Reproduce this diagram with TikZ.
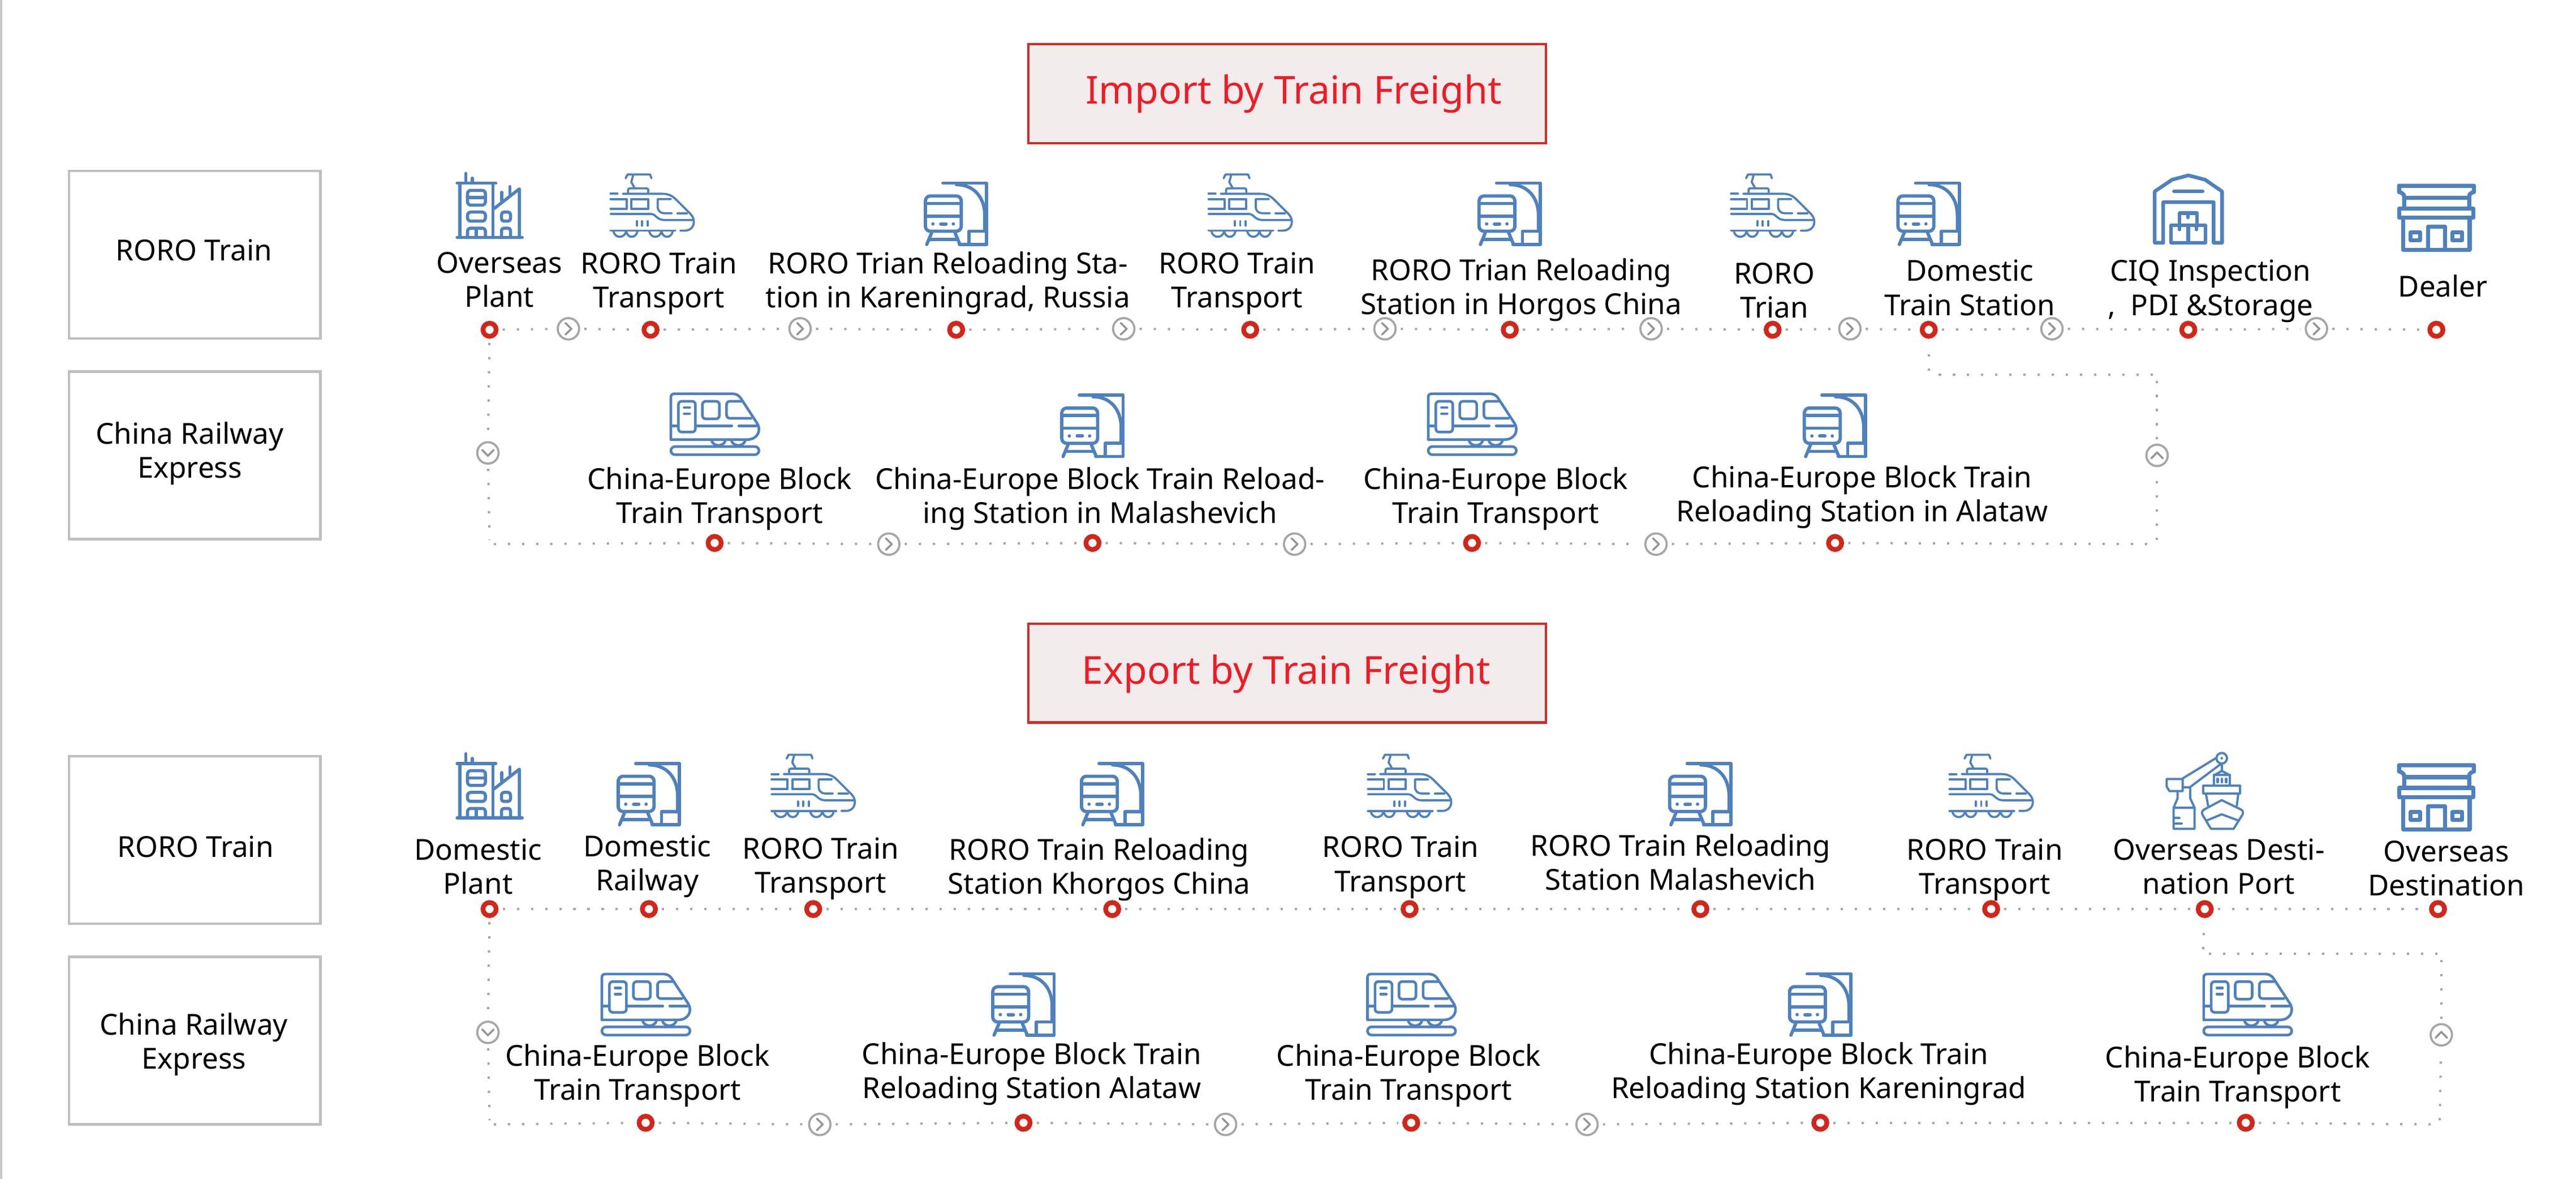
\documentclass[tikz,border=0pt]{standalone}
\usepackage{fontspec}
\setmainfont{Noto Sans}
\definecolor{icon}{HTML}{4F81BD}
\definecolor{ringred}{HTML}{D2261A}
\definecolor{dotgray}{HTML}{A6A6A6}
\definecolor{boxgray}{HTML}{BFBFBF}
\definecolor{ttlborder}{HTML}{C8302A}
\definecolor{ttlfill}{HTML}{F2ECED}
\definecolor{ttltext}{HTML}{EE1C25}
\newcommand\lz{\rule[-6.2pt]{0pt}{20.7pt}}
\newcommand\lbl[5]{\node[lbl,yshift=-2.3pt] (#1) at (#2,#3) {\lz #4\\\lz #5};}
\newcommand\gar[4]{\node[garrow] (#1) at (#2,#3) {};
  \draw[chev,shift={(#1.center)},rotate=#4] (-1.8,-3.5)--(1.8,0)--(-1.8,3.5);}
\tikzset{
  x=1pt,y=-1pt,
  lbl/.style={inner sep=0,align=center,font=\fontsize{17.6}{20.7}\selectfont,text=black},
  ttl/.style={draw=ttlborder,fill=ttlfill,line width=1.4pt,minimum width=315pt,minimum height=60pt,inner sep=0},
  ttltxt/.style={inner sep=0,text=ttltext,font=\fontsize{23.4}{28}\selectfont},
  lbox/.style={draw=boxgray,line width=1.5pt,minimum width=153pt,minimum height=102pt,inner sep=0},
  ring/.style={circle,draw=ringred,fill=white,line width=2.9pt,minimum size=8pt,inner sep=0},
  garrow/.style={circle,draw=dotgray,fill=white,line width=1.3pt,minimum size=13pt,inner sep=0},
  chev/.style={draw=dotgray!90!black,line width=1.2pt,line cap=round,line join=round},
  conn/.style={draw=dotgray,line width=1.4pt,dash pattern=on 1.4pt off 7.2pt,shorten <=2.5pt,shorten >=2.5pt},
  ic/.style={draw=icon,line cap=round,line join=round,fill=none},
  pics/fasttrain/.style={code={
    \begin{scope}[scale=.1148,shift={(-456,-249)},ic,line width=1.3pt]
    \draw (315,105)--(325,85)--(445,85)--(452,105);
    \draw (355,88)--(345,125)--(362,155);
    \draw[rounded corners=1pt] (328,180)--(328,158)--(435,158)--(435,180);
    \draw (235,187)--(272,187);
    \draw (300,187)--(510,187) .. controls (545,187) and (565,200) .. (585,220)--(660,295) .. controls (690,325) and (680,382) .. (630,382)--(605,382);
    \draw (235,215)--(320,215)--(320,267)--(235,267);
    \draw (345,215) rectangle (435,267);
    \draw (555,215)--(485,215)--(485,255) .. controls (485,278) and (500,290) .. (520,290)--(560,290);
    \draw (590,290)--(640,290);
    \draw (235,294)--(450,294) .. controls (475,294) and (480,326) .. (520,326)--(670,326);
    \draw (375,332)--(375,356) (403,332)--(403,356) (432,332)--(432,356);
    \draw (235,382)--(578,382);
    \draw (250,385) .. controls (258,425) and (310,425) .. (318,385);
    \draw (318,385) .. controls (325,425) and (370,425) .. (378,385);
    \draw (440,385) .. controls (448,425) and (497,425) .. (505,385);
    \draw (505,385) .. controls (512,425) and (557,425) .. (565,385);
    \end{scope}}},
  pics/reload/.style={code={
    \begin{scope}[scale=.1148,shift={(-278,-259)},ic,line width=2pt]
    \draw (208,97)--(440,97)--(440,422)--(295,422);
    \draw (280,105) .. controls (370,105) and (430,170) .. (430,270)--(430,350);
    \draw (345,420)--(345,352)--(438,352);
    \draw[rounded corners=3pt] (115,165) rectangle (305,352);
    \draw (115,205)--(305,205) (115,272)--(305,272);
    \fill[icon] (155,313) circle[radius=9] (263,313) circle[radius=9];
    \draw[line width=2.1pt] (197,313)--(224,313);
    \draw (148,360)--(122,422) (272,360)--(298,422);
    \draw (140,395)--(280,395);
    \end{scope}}},
  pics/blocktrain/.style={code={
    \begin{scope}[scale=.1148,shift={(-337,-213)},ic,line width=1.6pt]
    \draw (105,295)--(105,70) .. controls (105,58) and (112,52) .. (125,52)--(430,52) .. controls (450,52) and (465,60) .. (475,75)--(560,205) .. controls (590,250) and (560,295) .. (510,295)--cycle;
    \draw (105,222)--(140,222);
    \draw[rounded corners=2pt] (145,92) rectangle (235,255);
    \draw (175,125)--(205,125) (175,158)--(205,158);
    \draw (235,222)--(428,222) (465,222)--(558,222);
    \draw[rounded corners=2pt] (272,92) rectangle (362,185);
    \draw[rounded corners=2pt] (480,92)--(400,92)--(400,182)--(530,182);
    \draw (320,298) .. controls (330,335) and (385,335) .. (395,298);
    \draw (425,298) .. controls (435,335) and (490,335) .. (500,298);
    \draw[rounded corners=2.5pt] (105,332) rectangle (572,375);
    \end{scope}}},
  pics/building/.style={code={
    \begin{scope}[scale=.1148,shift={(-232,-210)},ic,line width=1.9pt]
    \draw (60,380)--(405,380);
    \draw (60,92)--(265,92);
    \draw (75,92)--(75,380) (250,92)--(250,380);
    \draw (106,40)--(106,90) (140,65)--(140,90);
    \draw (258,225)--(390,122)--(390,380);
    \draw (297,140)--(297,185) (340,110)--(340,150);
    \draw[rounded corners=2pt] (115,130) rectangle (210,208);
    \draw (115,168)--(210,168);
    \draw[rounded corners=2pt] (115,245) rectangle (210,293);
    \draw[rounded corners=2pt] (115,380)--(115,330)--(210,330)--(210,380);
    \draw (162,335)--(162,380);
    \draw[rounded corners=1.5pt] (295,245) rectangle (343,293);
    \draw[rounded corners=1.5pt] (295,380)--(295,330)--(343,330)--(343,380);
    \end{scope}}},
  pics/warehouse/.style={code={
    \begin{scope}[scale=.1148,shift={(-236,-232)},ic,line width=2.2pt]
    \draw (58,140)--(150,78)--(236,55)--(325,78)--(415,140)--(415,412)--(370,412)--(370,197)--(103,197)--(103,412)--(58,412)--cycle;
    \draw (160,140)--(312,140);
    \draw (190,315)--(190,255)--(282,255)--(282,315);
    \draw (145,320) rectangle (327,412);
    \draw (236,320)--(236,412);
    \draw (190,330)--(190,342) (280,330)--(280,342) (235,265)--(235,278);
    \end{scope}}},
  pics/shop/.style={code={
    \begin{scope}[scale=.1148,shift={(-266,-225)},ic,line width=2.5pt]
    \draw (95,175)--(95,110) .. controls (95,100) and (80,90) .. (68,88)--(68,55)--(465,55)--(465,88) .. controls (453,90) and (440,100) .. (440,110)--(440,175);
    \draw (95,118)--(440,118);
    \draw (68,175) rectangle (462,225);
    \draw (90,225)--(90,395)--(442,395)--(442,225);
    \draw (222,395)--(222,272)--(313,272)--(313,395);
    \draw (130,302) rectangle (180,345);
    \draw (352,302) rectangle (402,345);
    \end{scope}}},
  pics/port/.style={code={
    \begin{scope}[scale=.1148,shift={(-262,-230)},ic,line width=1.35pt]
    \draw (352,58) circle[radius=28];
    \fill[icon] (352,58) circle[radius=7];
    \draw (145,165)--(325,55) (185,210)--(345,90);
    \draw (60,168)--(145,168)--(145,232)--(75,232)--(60,208)--cycle;
    \draw (150,212)--(185,212)--(185,270)--(208,320)--(208,432)--(97,432)--(97,320)--(118,270)--(118,235);
    \draw (97,320)--(208,320);
    \draw (100,375)--(128,375) (100,403)--(140,403);
    \draw (352,90)--(352,125);
    \draw (318,145)--(352,125)--(390,145);
    \draw (310,200)--(310,145)--(395,145)--(395,200);
    \draw[line width=1.5pt] (330,167)--(330,185) (352,167)--(352,185) (375,167)--(375,185);
    \draw (255,202) rectangle (450,245);
    \draw (268,245)--(280,310) (440,245)--(432,310);
    \draw (352,280)--(455,330) .. controls (465,337) and (468,345) .. (462,357)--(415,432)--(295,432)--(250,357) .. controls (245,345) and (248,337) .. (258,330)--cycle;
    \draw (272,388)--(352,355)--(440,388);
    \end{scope}}},
}
\begin{document}
\begin{tikzpicture}
\useasboundingbox (0,0) rectangle (1568,717.2);
\fill[boxgray!85] (0,0) rectangle (1.5,717.2);

% titles
\node[ttl] (t1) at (783.5,57) {};
\node[ttltxt] (t1t) at (787.5,57) {Import by Train Freight};
\node[ttl] (t2) at (783.5,409.5) {};
\node[ttltxt] (t2t) at (783,410) {Export by Train Freight};

% left boxes
\node[lbox] (b1) at (118.5,155) {};
\node[lbox] (b2) at (118.5,277) {};
\node[lbox] (b3) at (118.5,511) {};
\node[lbox] (b4) at (118.5,633) {};
\node[lbl] (b1t) at (118,152.3) {RORO Train};
\lbl{b2t}{115.5}{274}{China Railway}{Express}
\node[lbl] (b3t) at (119,515) {RORO Train};
\lbl{b4t}{118}{633.5}{China Railway}{Express}

% row 1 stations
\foreach \n/\x in {1/298,2/396,3/582,4/761,5/919,6/1079,7/1174,8/1332,9/1483}
  \node[ring] (d\n) at (\x,200.6) {};
\foreach \n/\x in {1/346,2/487,3/684,4/843,5/1005,6/1126,7/1249,8/1410}
  {\gar{a\n}{\x}{200}{0}}
\gar{av1}{297}{275.5}{-90}
\gar{av2}{1313}{277}{90}
% row 2
\foreach \n/\x in {1/435,2/665,3/896,4/1117}
  \node[ring] (e\n) at (\x,330.3) {};
\foreach \n/\x in {1/541,2/788,3/1008}
  {\gar{f\n}{\x}{331}{0}}
\coordinate (c1) at (298,331);
\coordinate (c2) at (1313,331);
\coordinate (c3) at (1313,228);
\coordinate (c4) at (1174,228);
\foreach \a/\b in {d1/a1,a1/d2,d2/a2,a2/d3,d3/a3,a3/d4,d4/a4,a4/d5,d5/a5,a5/d6,d6/a6,a6/d7,d7/a7,a7/d8,d8/a8,a8/d9,
   d1/av1,av1/c1,c1/e1,e1/f1,f1/e2,e2/f2,f2/e3,e3/f3,f3/e4,e4/c2,c2/av2,av2/c3,c3/c4,c4/d7}
  \draw[conn] (\a)--(\b);

% row 3
\foreach \n/\x in {1/298,2/395,3/495,4/677,5/858,6/1035,7/1212,8/1342,9/1484}
  \node[ring] (g\n) at (\x,553) {};
\foreach \n/\x in {1/393,2/623,3/859,4/1108,5/1367}
  \node[ring] (h\n) at (\x,683) {};
\foreach \n/\x in {1/499,2/746,3/966}
  {\gar{k\n}{\x}{684}{0}}
\gar{av3}{297}{628}{-90}
\gar{av4}{1486}{629.5}{90}
\coordinate (c5) at (298,684);
\coordinate (c6) at (1485,684);
\coordinate (c7) at (1486,580);
\coordinate (c8) at (1341,580);
\foreach \a/\b in {g1/g2,g2/g3,g3/g4,g4/g5,g5/g6,g6/g7,g7/g8,g8/g9,
   g1/av3,av3/c5,c5/h1,h1/k1,k1/h2,h2/k2,k2/h3,h3/k3,k3/h4,h4/h5,h5/c6,c6/av4,av4/c7,c7/c8,c8/g8}
  \draw[conn] (\a)--(\b);

% icons
\pic at (298,125) {building};
\pic at (397,125) {fasttrain};
\pic at (582,130) {reload};
\pic at (761,125) {fasttrain};
\pic at (919,130) {reload};
\pic at (1079,125) {fasttrain};
\pic at (1174,130) {reload};
\pic at (1332,127) {warehouse};
\pic at (1483,132.5) {shop};
\pic at (435,258) {blocktrain};
\pic at (665,259) {reload};
\pic at (896,258) {blocktrain};
\pic at (1117,259) {reload};
\pic at (298,478) {building};
\pic at (395,483) {reload};
\pic at (495,478) {fasttrain};
\pic at (677,483) {reload};
\pic at (858,478) {fasttrain};
\pic at (1035,483) {reload};
\pic at (1212,478) {fasttrain};
\pic at (1342,481) {port};
\pic at (1483,485) {shop};
\pic at (393,611) {blocktrain};
\pic at (623,611) {reload};
\pic at (859,611) {blocktrain};
\pic at (1108,611) {reload};
\pic at (1368,611) {blocktrain};

% labels
\lbl{l1}{304}{170}{Overseas}{Plant}
\lbl{l2}{401}{170.5}{RORO Train}{Transport}
\lbl{l3}{577}{170.5}{RORO Trian Reloading Sta-}{tion in Kareningrad, Russia}
\lbl{l4}{753}{170.5}{RORO Train}{Transport}
\lbl{l5}{926}{174.5}{RORO Trian Reloading}{Station in Horgos China}
\lbl{l6}{1080}{176.5}{RORO}{Trian}
\lbl{l7}{1199}{175}{Domestic}{Train Station}
\lbl{l8}{1345.5}{175}{CIQ Inspection}{,\ \ PDI \&Storage}
\node[lbl] (l9) at (1487,174) {Dealer};
\lbl{m1}{438}{301.5}{China-Europe Block}{Train Transport}
\lbl{m2}{669.5}{301.5}{China-Europe Block Train Reload-}{ing Station in Malashevich}
\lbl{m3}{910.5}{301.5}{China-Europe Block}{Train Transport}
\lbl{m4}{1133.5}{300.5}{China-Europe Block Train}{Reloading Station in Alataw}
\lbl{n1}{291}{527}{Domestic}{Plant}
\lbl{n2}{394}{525}{Domestic}{Railway}
\lbl{n3}{499.5}{526.5}{RORO Train}{Transport}
\lbl{n4}{669}{527}{RORO Train Reloading}{Station Khorgos China}
\lbl{n5}{852.5}{525.5}{RORO Train}{Transport}
\lbl{n6}{1023}{524.5}{RORO Train Reloading}{Station Malashevich}
\lbl{n7}{1208}{527}{RORO Train}{Transport}
\lbl{n8}{1350.5}{527}{Overseas Desti-}{nation Port}
\lbl{n9}{1489}{528}{Overseas}{Destination}
\lbl{o1}{388}{652.5}{China-Europe Block}{Train Transport}
\lbl{o2}{628}{651.5}{China-Europe Block Train}{Reloading Station Alataw}
\lbl{o3}{857.5}{652.5}{China-Europe Block}{Train Transport}
\lbl{o4}{1107}{651.5}{China-Europe Block Train}{Reloading Station Kareningrad}
\lbl{o5}{1362}{653.5}{China-Europe Block}{Train Transport}
\end{tikzpicture}
\end{document}
